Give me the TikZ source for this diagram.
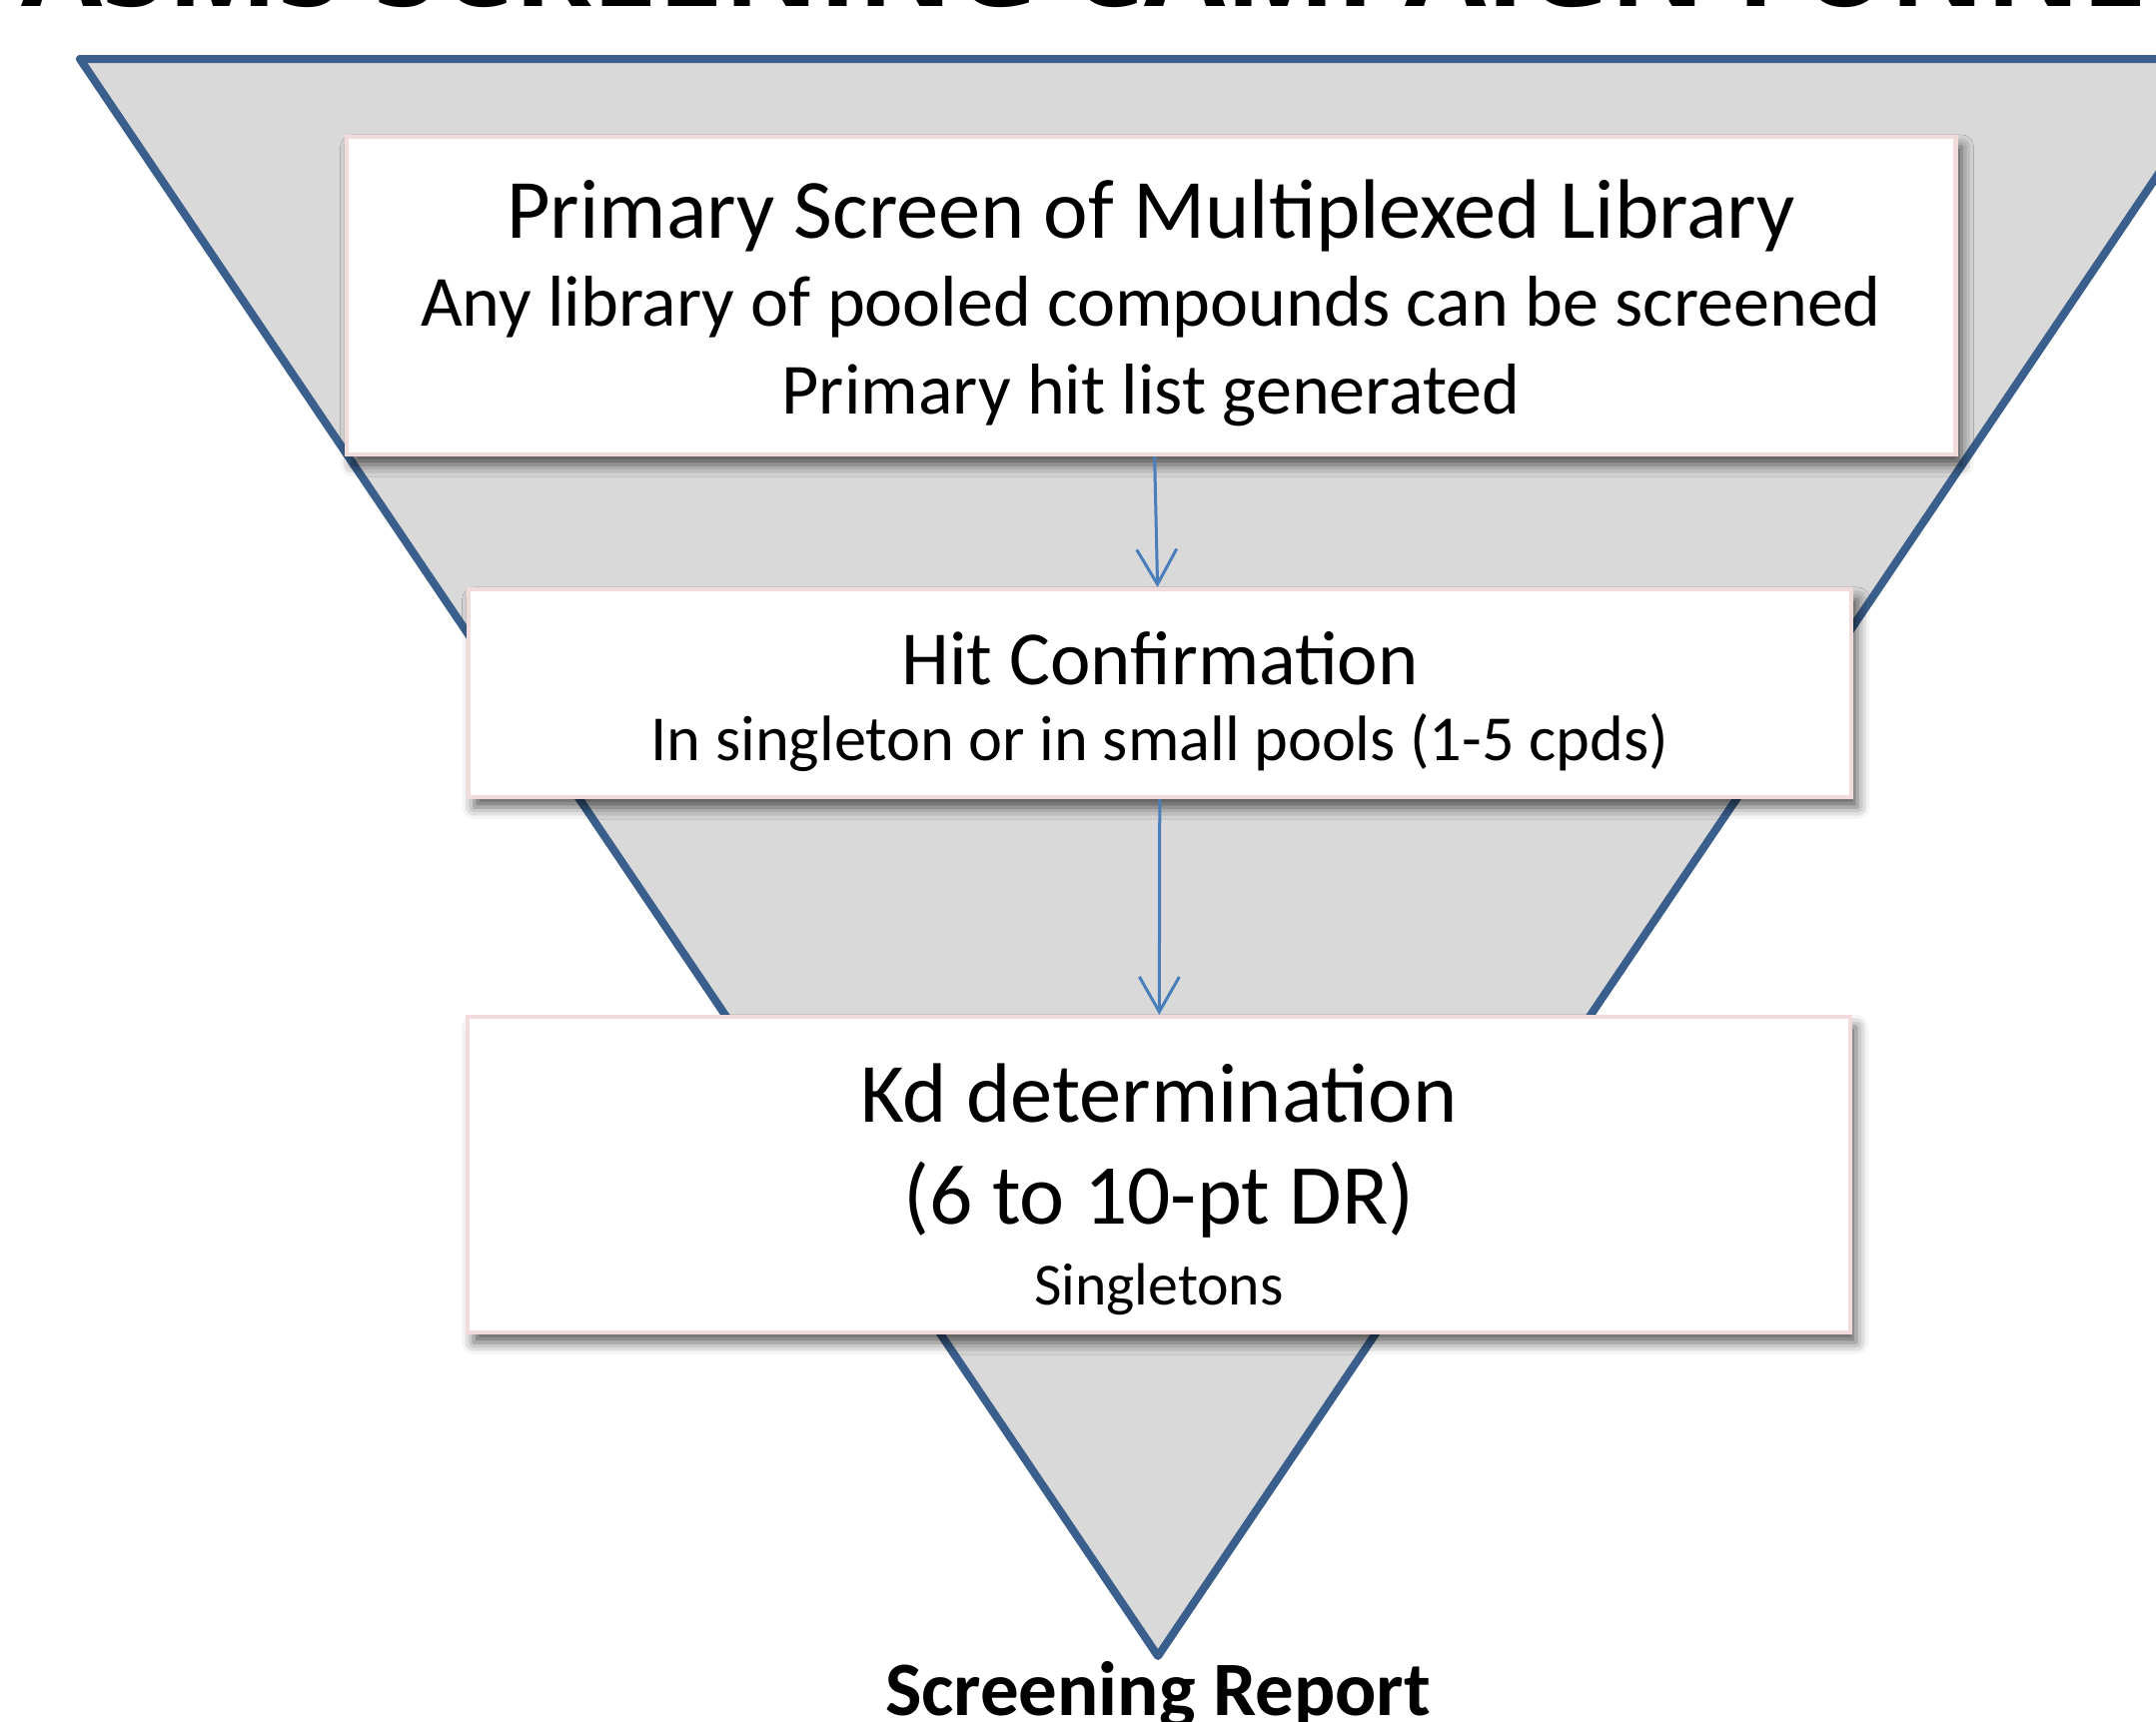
\documentclass[tikz,border=0pt]{standalone}
\usepackage{fontspec}
\setmainfont{Carlito}
\newfontfamily\titlefont{Open Sans}
\usetikzlibrary{arrows.meta,positioning,shadows.blur}
\definecolor{funnelgray}{HTML}{D9D9D9}
\definecolor{funnelblue}{HTML}{3B5F8C}
\definecolor{arrowblue}{HTML}{4A7EBB}
\definecolor{boxpink}{HTML}{F2DCDB}
\newcommand{\bigtxt}{\fontsize{24}{25}\selectfont}
\newcommand{\midtxt}{\fontsize{20.5}{25}\selectfont}
\newcommand{\smalltxt}{\fontsize{17}{21}\selectfont}
\tikzset{
  stage/.style={draw=boxpink, line width=0.04cm, fill=white, align=center,
    inner sep=0pt, blur shadow={shadow xshift=0.06cm, shadow yshift=-0.1cm,
    shadow blur radius=0.12cm, shadow opacity=65}},
  flow/.style={draw=arrowblue, line width=0.03cm,
    -{Straight Barb[length=0.35cm, width=0.4cm, line width=0.03cm]}}
}
\begin{document}
\begin{tikzpicture}[x=0.01cm, y=-0.01cm]
  \useasboundingbox (0,0) rectangle (2158,1723);
  \clip (0,0) rectangle (2158,1723);
  % title, cut at the top edge
  \node[anchor=base west, inner sep=0pt] (title) at (21,6)
    {\titlefont\bfseries\fontsize{33.5}{40}\selectfont ASMS SCREENING CAMPAIGN FUNNEL};
  % funnel
  \coordinate (tip) at (1159,1658);
  \draw[funnelblue, fill=funnelgray, line width=0.08cm, line join=round]
    (80,59) -- (2238,59) -- (tip) -- cycle;
  % stages
  \node[stage, font=\fontsize{20.5}{25}\selectfont,
        minimum width=16.10cm, minimum height=3.18cm] (primary) at (1152,296)
    {\bigtxt\rule{0pt}{21pt}Primary Screen of Multiplexed Library\\
     \midtxt Any library of pooled compounds can be screened\\
     \midtxt Primary hit list generated};
  \node[stage, font=\fontsize{18.3}{21.7}\selectfont,
        minimum width=13.84cm, minimum height=2.08cm] (confirm) at (1161,694)
    {\fontsize{21.8}{22}\selectfont\rule{0pt}{20pt}Hit Confirmation\\
     \fontsize{18.3}{22}\selectfont In singleton or in small pools (1-5 cpds)};
  \node[stage, font=\fontsize{17}{21}\selectfont,
        minimum width=13.83cm, minimum height=3.16cm] (kd) at (1160,1176)
    {\bigtxt\rule{0pt}{25pt}Kd determination\\[8pt]
     \fontsize{24.3}{25}\selectfont (6 to 10-pt DR)\\[2pt]
     \smalltxt Singletons};
  \draw[flow] (primary) -- (confirm);
  \draw[flow] (confirm) -- (kd);
  % result
  \node[below=0.05cm of tip, inner sep=0pt, font=\bfseries\fontsize{21.9}{25}\selectfont]
    (report) {Screening Report};
\end{tikzpicture}
\end{document}
